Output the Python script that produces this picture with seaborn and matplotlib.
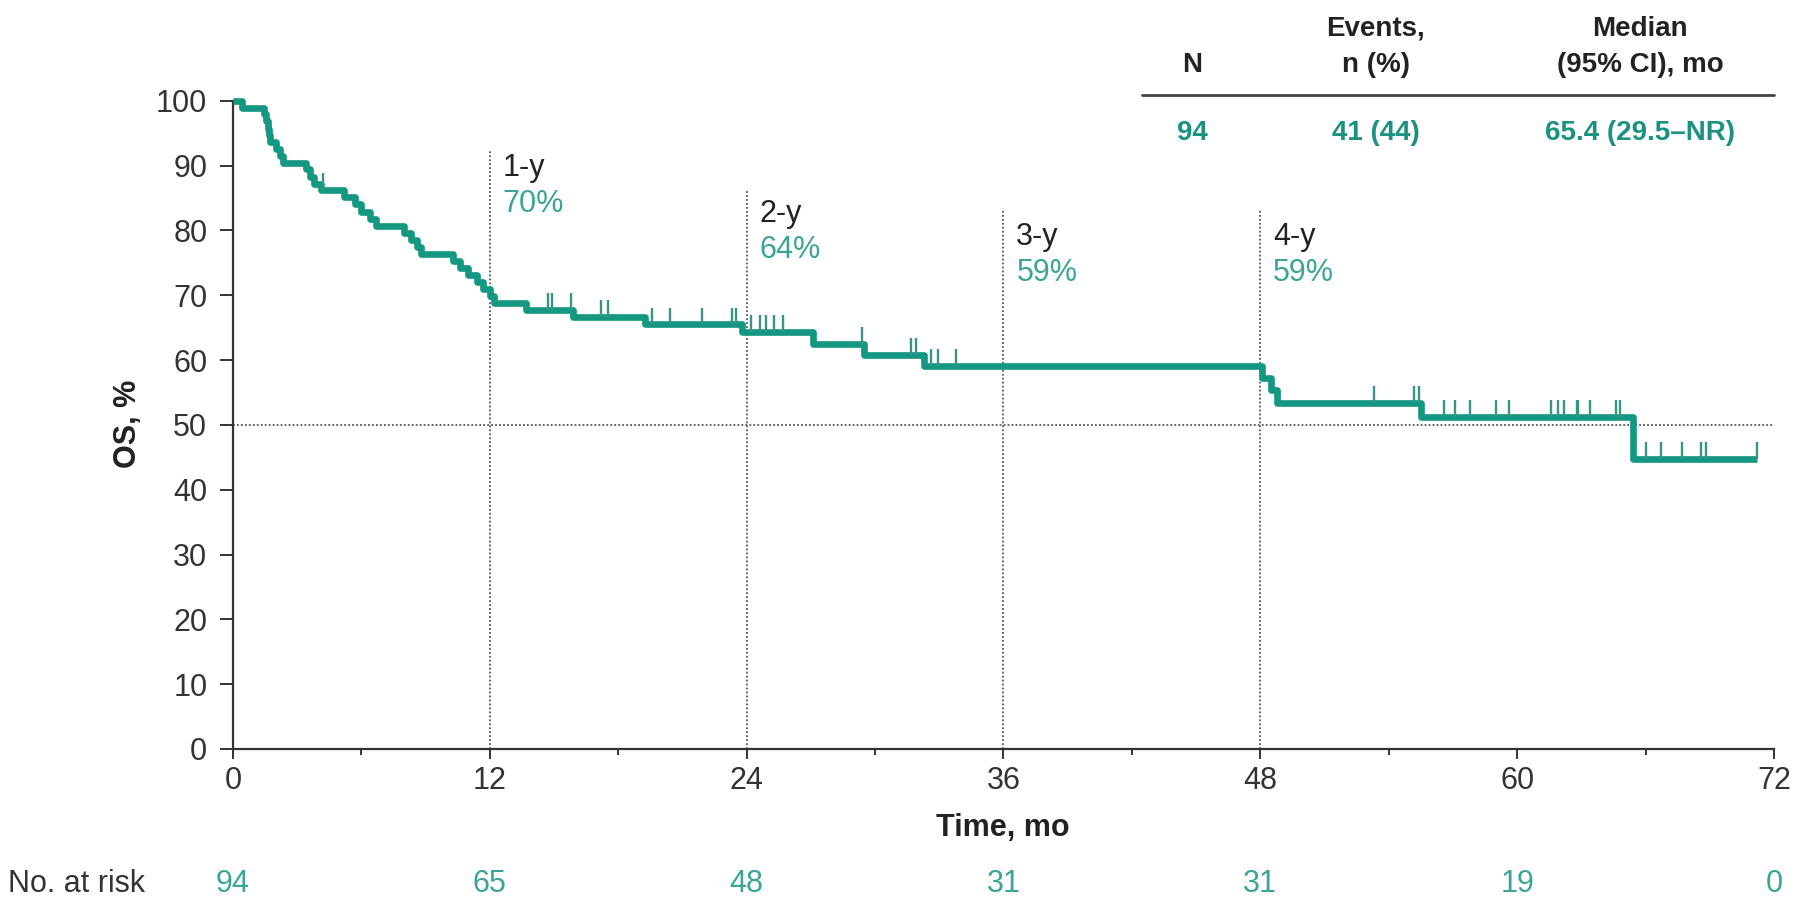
import numpy as np
import pandas as pd
import matplotlib
matplotlib.use("Agg")
import matplotlib.pyplot as plt
import matplotlib.transforms as mtransforms
from matplotlib.ticker import MultipleLocator
import seaborn as sns

# ---------------- data ----------------
step_times = [0, 0.4, 1.45, 1.55, 1.65, 1.7, 1.75, 2.0, 2.2, 2.35, 3.4, 3.6, 3.8, 4.1,
              5.2, 5.7, 6.0, 6.4, 6.7, 8.0, 8.3, 8.6, 8.8, 10.3, 10.6, 11.0, 11.4, 11.7,
              12.0, 12.2, 13.7, 15.9, 19.25, 23.8, 27.1, 29.5, 32.3, 48.07, 48.5, 48.8,
              55.5, 65.4]
step_surv = [100, 98.9, 97.9, 96.8, 95.7, 94.7, 93.6, 92.6, 91.5, 90.4, 89.4, 88.3, 87.2,
             86.2, 85.1, 84.0, 82.9, 81.8, 80.7, 79.6, 78.5, 77.4, 76.3, 75.3, 74.2, 73.1,
             72.0, 70.9, 69.9, 68.8, 67.7, 66.6, 65.5, 64.3, 62.5, 60.8, 59.1, 57.2, 55.4,
             53.4, 51.2, 44.7]
last_follow_up = 71.2

censor_times = [4.2, 14.7, 14.9, 15.8, 17.2, 17.5, 19.6, 20.4, 21.9, 23.3, 23.5, 24.2,
                24.6, 24.9, 25.3, 25.7, 29.4, 31.7, 31.9, 32.6, 32.96, 33.8, 53.3, 55.2,
                55.4, 56.6, 57.1, 57.8, 59.0, 59.6, 61.6, 61.9, 62.2, 62.8, 62.85, 63.4,
                64.6, 64.8, 66.0, 66.7, 67.7, 68.6, 68.8, 71.2]

landmark_times = [12, 24, 36, 48]
landmark_labels = ["1-y", "2-y", "3-y", "4-y"]
landmark_pcts = ["70%", "64%", "59%", "59%"]

risk_times = [0, 12, 24, 36, 48, 60, 72]
risk_counts = [94, 65, 48, 31, 31, 19, 0]

table_headers = [["", "N"], ["Events,", "n (%)"], ["Median", "(95% CI), mo"]]
table_values = ["94", "41 (44)", "65.4 (29.5\u2013NR)"]

# ---------------- style ----------------
sns.set_style("ticks")
plt.rcParams["font.family"] = ["Liberation Sans", "DejaVu Sans"]

W, H = 1798, 899
fig = plt.figure(figsize=(W / 100, H / 100), dpi=100)
ax = fig.add_axes([233 / W, 1 - 749 / H, (1774 - 233) / W, (749 - 100.7) / H])

TEAL = "#149882"
TEAL_TXT = "#3aa596"
TEAL_BOLD = "#1b9280"
DARK = "#333333"
FS = 22

df = pd.DataFrame({"time": step_times + [last_follow_up],
                   "surv": step_surv + [step_surv[-1]]})
sns.lineplot(data=df, x="time", y="surv", drawstyle="steps-post", estimator=None,
             sort=False, color=TEAL, linewidth=4.8, ax=ax, clip_on=False,
             solid_capstyle="butt", zorder=3)

# censor marks
st = np.array(step_times)
ss = np.array(step_surv)
cy = ss[np.searchsorted(st, np.array(censor_times), side="right") - 1]
ax.vlines(censor_times, cy, cy + 2.6, color="#3a9484", linewidth=1.7, zorder=4)

# landmark lines
line_tops = [92.2, 86.4, 83.3, 83.3]
label_y = [89.6, 82.5, 78.9, 78.9]
pct_y = [84.0, 77.0, 73.4, 73.4]
for t, top, lab, pct, ly, py in zip(landmark_times, line_tops, landmark_labels,
                                    landmark_pcts, label_y, pct_y):
    ax.plot([t, t], [0, top], linestyle=(0, (1, 1.2)), color="#555555", linewidth=1.3, zorder=2)
    ax.text(t + 0.6, ly, lab, fontsize=FS, color="#222222", ha="left", va="center")
    ax.text(t + 0.6, py, pct, fontsize=FS, color=TEAL_TXT, ha="left", va="center")

ax.plot([0, 72], [50, 50], linestyle=(0, (1, 1.2)), color="#555555", linewidth=1.3, zorder=2)

# axes
ax.set_xlim(0, 72)
ax.set_ylim(0, 100)
ax.xaxis.set_major_locator(MultipleLocator(12))
ax.xaxis.set_minor_locator(MultipleLocator(6))
ax.yaxis.set_major_locator(MultipleLocator(10))
ax.set_xlabel("")
ax.set_ylabel("")
for s in ["top", "right"]:
    ax.spines[s].set_visible(False)
for s in ["left", "bottom"]:
    ax.spines[s].set_color(DARK)
    ax.spines[s].set_linewidth(1.6)
ax.tick_params(axis="y", which="major", length=9.5, width=1.4, color=DARK,
               labelsize=FS, labelcolor=DARK, pad=9)
ax.tick_params(axis="x", which="major", length=7, width=1.4, color=DARK,
               labelsize=FS, labelcolor=DARK, pad=5)
ax.tick_params(axis="x", which="minor", length=4.5, width=1.4, color=DARK)

fig.text(128 / W, 1 - 424 / H, "OS, %", rotation=90, fontsize=FS, fontweight="bold",
         color="#222222", ha="center", va="center")
fig.text(1003 / W, 1 - 828 / H, "Time, mo", fontsize=FS, fontweight="bold",
         color="#222222", ha="center", va="center")

# at-risk row
fig.text(8 / W, 1 - 884 / H, "No. at risk", fontsize=FS, color=DARK, ha="left", va="center")
trans = mtransforms.blended_transform_factory(ax.transData, fig.transFigure)
for t, n in zip(risk_times, risk_counts):
    ax.text(t, 1 - 884 / H, str(n), transform=trans, fontsize=FS, color=TEAL_TXT,
            ha="center", va="center", clip_on=False)

# table
col_x = [1192, 1376, 1640]
for cx, (h1, h2), v in zip(col_x, table_headers, table_values):
    if h1:
        fig.text(cx / W, 1 - 29 / H, h1, fontsize=20, fontweight="bold", color="#222222",
                 ha="center", va="center")
    fig.text(cx / W, 1 - 64.5 / H, h2, fontsize=20, fontweight="bold", color="#222222",
             ha="center", va="center")
    fig.text(cx / W, 1 - 132.5 / H, v, fontsize=20, fontweight="bold", color=TEAL_BOLD,
             ha="center", va="center")
fig.add_artist(plt.Line2D([1142 / W, 1774 / W], [1 - 95 / H, 1 - 95 / H],
                          color="#444444", linewidth=2.0, transform=fig.transFigure))

fig.savefig("out.png", dpi=100)
